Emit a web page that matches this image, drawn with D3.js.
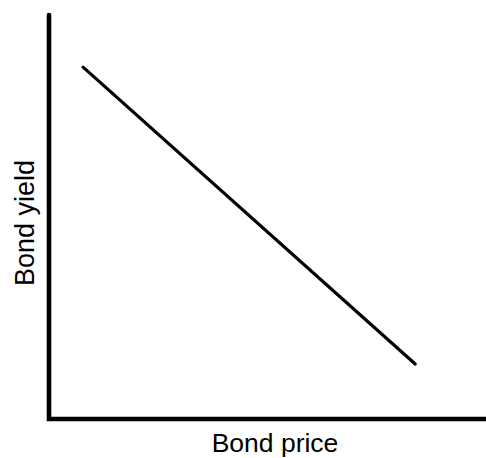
<!DOCTYPE html>
<html><head><meta charset="utf-8">
<script src="https://cdn.jsdelivr.net/npm/d3@7"></script>
<style>html,body{margin:0;padding:0;background:#fff;}svg{display:block;}</style>
</head><body>
<script>
const priceValues = [7.8, 83.8];
const yieldValues = [87.1, 13.6];
const xLabel = "Bond price";
const yLabel = "Bond yield";

const W = 486, H = 458;
const svg = d3.select("body").append("svg").attr("width", W).attr("height", H);
const x = d3.scaleLinear().domain([0, 100]).range([49, 486]);
const y = d3.scaleLinear().domain([0, 100]).range([419, 15]);

const pts = priceValues.map((p, i) => [p, yieldValues[i]]);
svg.append("path")
  .attr("d", d3.line().x(d => x(d[0])).y(d => y(d[1]))(pts))
  .attr("fill", "none").attr("stroke", "#000").attr("stroke-width", 3.2).attr("stroke-linecap", "round");

// axes
svg.append("path")
  .attr("d", `M${x(0)},${y(100)}V${y(0)}H${x(100)}`)
  .attr("fill", "none").attr("stroke", "#000").attr("stroke-width", 4.6)
  .attr("stroke-linejoin", "miter").attr("stroke-linecap", "round");

svg.append("text").text(xLabel)
  .attr("x", 275).attr("y", 451.5)
  .attr("text-anchor", "middle")
  .attr("font-family", "Liberation Sans, Arial, sans-serif").attr("font-size", 26.5);

svg.append("text").text(yLabel)
  .attr("transform", "translate(34,223) rotate(-90)")
  .attr("text-anchor", "middle")
  .attr("font-family", "Liberation Sans, Arial, sans-serif").attr("font-size", 27);
</script>
</body></html>
